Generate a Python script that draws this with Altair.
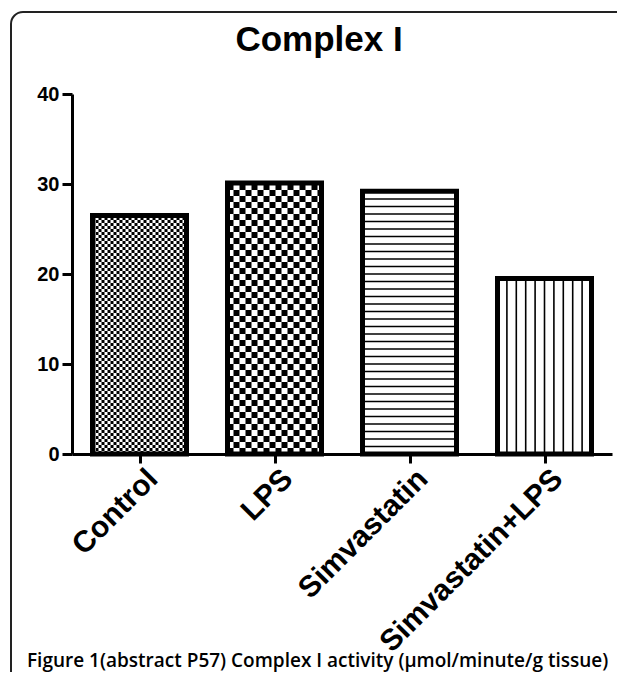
import json
import altair as alt
import pandas as pd

# ---- data ----
categories = ["Control", "LPS", "Simvastatin", "Simvastatin+LPS"]
values = [26.5, 30.1, 29.2, 19.5]
y_ticks = [0, 10, 20, 30, 40]
patterns = ["check3", "check6", "hlines", "vlines"]
title_text = "Complex I"
caption_text = "Figure 1(abstract P57) Complex I activity (\u00b5mol/minute/g tissue)"

# ---- layout / style constants ----
W, H = 540, 360
Y_MAX = 40
U = Y_MAX / H            # data units per pixel on the y axis
STEP_PX = W / len(categories)
BAR_HALF = 47 / STEP_PX  # half bar width in category units
FONT = "Liberation Sans"

bars = pd.DataFrame({"cat": categories, "idx": list(range(len(categories))),
                     "value": values, "pattern": patterns})
bars["x0"] = bars["idx"] - BAR_HALF
bars["x1"] = bars["idx"] + BAR_HALF

# pattern helper rows derived from the bar values
check_rows = []
for _, b in bars.iterrows():
    if b.pattern.startswith("check"):
        c = int(b.pattern[5:])
        k = 0
        while (k + 1) * c * U <= b.value + 1e-9:
            check_rows.append({"cell": c, "parity": k % 2, "y": (k + 0.5) * c * U,
                               "x0": b.x0, "x1": b.x1})
            k += 1
check_df = pd.DataFrame(check_rows)

h_rows = []
for _, b in bars[bars.pattern == "hlines"].iterrows():
    pitch = 7.5 * U
    k = 1
    while k * pitch < b.value - 0.3:
        h_rows.append({"y": k * pitch, "x0": b.x0, "x1": b.x1})
        k += 1
h_df = pd.DataFrame(h_rows)

v_rows = []
for _, b in bars[bars.pattern == "vlines"].iterrows():
    n = 10
    for k in range(1, n):
        v_rows.append({"x": b.x0 + k * (b.x1 - b.x0) / n, "value": b.value})
v_df = pd.DataFrame(v_rows)

label_expr = f"{json.dumps(categories)}[datum.value]"

x_scale = alt.Scale(domain=[-0.5, len(categories) - 0.5], nice=False, zero=False)
y_scale = alt.Scale(domain=[0, Y_MAX], nice=False)

x_axis = alt.Axis(values=list(range(len(categories))), labelExpr=label_expr, title=None,
                  grid=False, domainColor="black", domainWidth=3, tickColor="black",
                  tickWidth=3, tickSize=9, labelAngle=-45, labelAlign="right",
                  labelBaseline="middle", labelFont=FONT, labelFontSize=30,
                  labelFontWeight="bold", labelColor="black", labelPadding=11,
                  labelOffset=13, labelFlush=False, labelOverlap=False,
                  labelLimit=400)
y_axis = alt.Axis(values=y_ticks, title=None, grid=False, domainColor="black",
                  domainWidth=3, tickColor="black", tickWidth=3, tickSize=10,
                  labelFont=FONT, labelFontSize=20, labelFontWeight="bold",
                  labelColor="black", labelPadding=3)


def X(field):
    return alt.X(field, scale=x_scale, axis=x_axis)


def Y(field):
    return alt.Y(field, scale=y_scale, axis=y_axis)


base = alt.Chart(bars)

white_fill = base.mark_rect(fill="white").encode(
    x=X("x0:Q"), x2="x1:Q", y=Y("value:Q"), y2=alt.datum(0))

layers = [white_fill]
for c in (3, 6):
    for parity in (0, 1):
        sub = check_df[(check_df.cell == c) & (check_df.parity == parity)]
        layers.append(
            alt.Chart(sub).mark_rule(color="black", strokeWidth=c, strokeCap="butt",
                                     strokeDash=[c, c], strokeDashOffset=parity * c)
            .encode(x=X("x0:Q"), x2="x1:Q", y=Y("y:Q")))

layers.append(
    alt.Chart(h_df).mark_rule(color="black", strokeWidth=1.6, strokeCap="butt")
    .encode(x=X("x0:Q"), x2="x1:Q", y=Y("y:Q")))
layers.append(
    alt.Chart(v_df).mark_rule(color="black", strokeWidth=1.6, strokeCap="butt")
    .encode(x=X("x:Q"), y=Y("value:Q"), y2=alt.datum(0)))

outline = base.mark_rect(fill=None, stroke="black", strokeWidth=5, strokeJoin="miter").encode(
    x=X("x0:Q"), x2="x1:Q", y=Y("value:Q"), y2=alt.datum(0))
layers.append(outline)

one = alt.Chart(pd.DataFrame({"k": [0]}))
frame = one.mark_rect(fill=None, stroke="#222", strokeWidth=2, cornerRadius=12).encode(
    x=alt.value(-61), x2=alt.value(560), y=alt.value(-82), y2=alt.value(600))
title = one.mark_text(font=FONT, fontSize=35, fontWeight="bold", color="black",
                      align="center", baseline="alphabetic").encode(
    x=alt.value(247), y=alt.value(-43), text=alt.value(title_text))
caption = one.mark_text(font="Open Sans", fontSize=19, fontWeight=600, color="black",
                        align="left", baseline="alphabetic").encode(
    x=alt.value(-45), y=alt.value(573), text=alt.value(caption_text))

# total svg size kept at 609 x 664 so the 625 x 680 page does not overflow
chart = alt.layer(frame, *layers, title, caption).properties(
    width=W, height=H,
    padding={"left": 64, "top": 86, "right": 5, "bottom": 218},
    autosize=alt.AutoSizeParams(type="none"),
).configure_view(stroke=None)

chart.save("out.html", embed_options={"renderer": "svg", "actions": False})
